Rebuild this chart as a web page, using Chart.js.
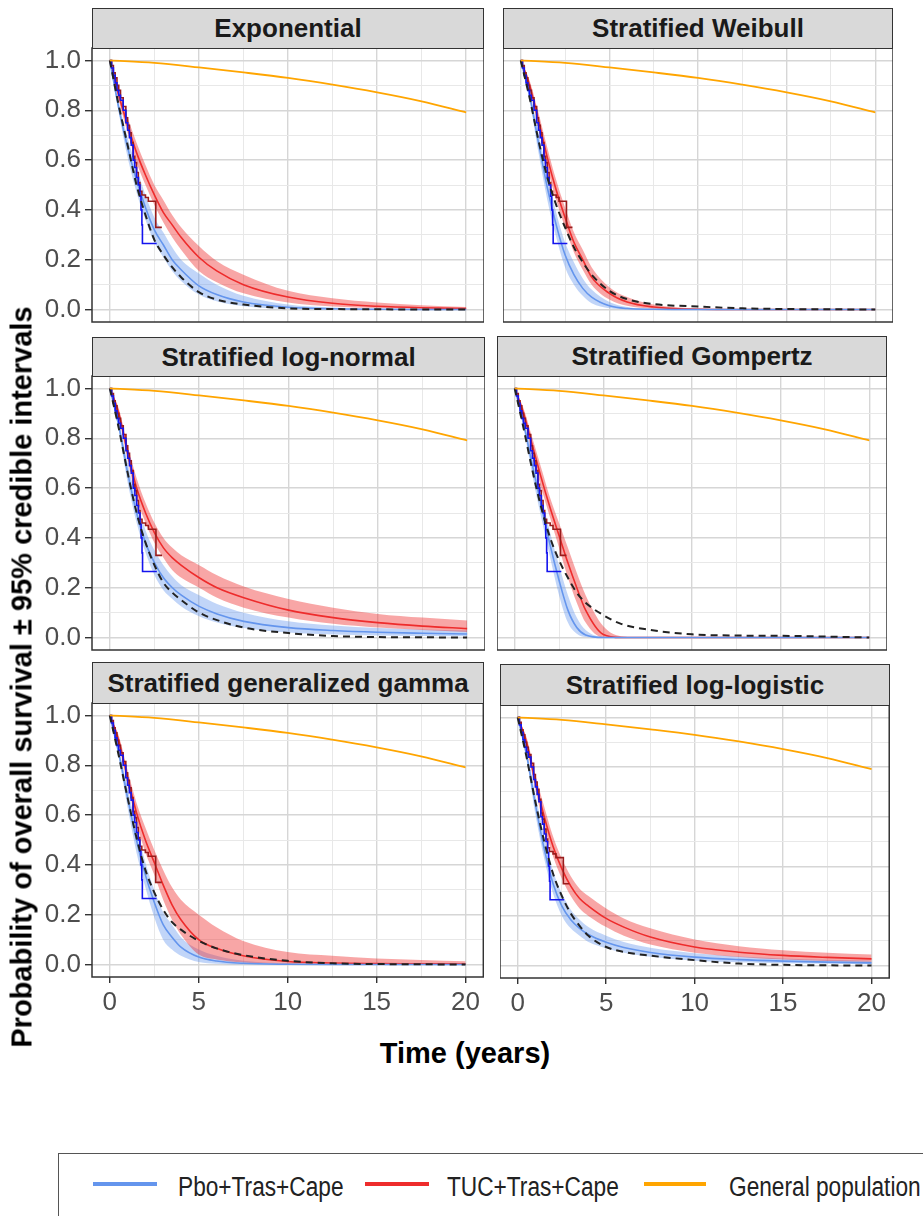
<!DOCTYPE html>
<html>
<head>
<meta charset="utf-8">
<script src="https://cdn.jsdelivr.net/npm/chart.js@4.4.1/dist/chart.umd.min.js"></script>
<style>
  body { margin: 0; background: #fff; width: 923px; height: 1216px; overflow: hidden; position: relative; font-family: 'Liberation Sans', Arial, sans-serif; }
  canvas { position: absolute; }
  .strip { position: absolute; box-sizing: border-box; background: #D9D9D9; border: 1.5px solid #333; font-weight: bold; font-size: 26px; color: #1a1a1a; display: flex; align-items: center; justify-content: center; white-space: nowrap; }
  .ytitle { position: absolute; left: 22px; top: 677px; transform: translate(-50%, -50%) rotate(-90deg); font-weight: bold; font-size: 29px; white-space: nowrap; color: #000; }
  .xtitle { position: absolute; left: 465px; top: 1053px; transform: translate(-50%, -50%); font-weight: bold; font-size: 29px; white-space: nowrap; color: #000; }
  .legend { position: absolute; left: 58px; top: 1153px; width: 900px; height: 100px; border: 1.5px solid #555; box-sizing: border-box; }
  .lkey { position: absolute; height: 4px; top: 1182px; }
  .ltxt { position: absolute; top: 1187px; font-size: 27px; color: #222; white-space: nowrap; transform-origin: left center; transform: translateY(-50%) scaleX(0.84); }
</style>
</head>
<body>
<script>
// time grid (years) used by the fitted curves
const T = [0, 0.5, 1, 1.5, 2, 2.5, 3, 3.5, 4, 5, 6, 7.5, 10, 12.5, 15, 17.5, 20];

// general population
const genT = [0, 2.5, 5, 7.5, 10, 12.5, 15, 17.5, 20];
const genPop = [1, 0.99, 0.972, 0.952, 0.93, 0.903, 0.872, 0.836, 0.792];

// Kaplan-Meier (observed)
const kmPboT = [0, 0.1, 0.2, 0.3, 0.4, 0.5, 0.6, 0.75, 0.9, 1.0, 1.1, 1.2, 1.31, 1.4, 1.5, 1.6, 1.69, 1.75, 1.8, 1.83, 2.63];
const kmPbo = [1, 0.97, 0.94, 0.91, 0.88, 0.86, 0.84, 0.8, 0.75, 0.72, 0.69, 0.66, 0.6, 0.57, 0.53, 0.5, 0.455, 0.4, 0.34, 0.265, 0.265];
const kmTucT = [0, 0.1, 0.2, 0.3, 0.4, 0.5, 0.6, 0.75, 0.9, 1.0, 1.1, 1.2, 1.31, 1.4, 1.5, 1.6, 1.69, 1.8, 2.0, 2.16, 2.58, 2.92];
const kmTuc = [1, 0.98, 0.95, 0.93, 0.9, 0.88, 0.85, 0.815, 0.77, 0.74, 0.71, 0.67, 0.615, 0.59, 0.55, 0.51, 0.475, 0.46, 0.45, 0.435, 0.33, 0.33];

// Exponential
const expRed = [1, 0.86, 0.74, 0.63, 0.54, 0.46, 0.39, 0.34, 0.29, 0.21, 0.155, 0.10, 0.05, 0.025, 0.013, 0.007, 0.004];
const expRedLo = [1, 0.84, 0.71, 0.59, 0.5, 0.42, 0.35, 0.29, 0.24, 0.155, 0.11, 0.065, 0.028, 0.012, 0.006, 0.003, 0.001];
const expRedHi = [1, 0.88, 0.77, 0.67, 0.58, 0.5, 0.44, 0.38, 0.33, 0.255, 0.195, 0.14, 0.075, 0.045, 0.028, 0.017, 0.01];
const expBlue = [1, 0.81, 0.65, 0.52, 0.41, 0.32, 0.26, 0.2, 0.16, 0.095, 0.06, 0.03, 0.009, 0.003, 0.001, 0, 0];
const expBlueLo = [1, 0.79, 0.61, 0.47, 0.36, 0.27, 0.21, 0.155, 0.115, 0.06, 0.033, 0.013, 0.003, 0.001, 0, 0, 0];
const expBlueHi = [1, 0.83, 0.69, 0.57, 0.46, 0.37, 0.31, 0.25, 0.2, 0.145, 0.1, 0.055, 0.02, 0.008, 0.003, 0.001, 0];
const expDash = [1, 0.82, 0.66, 0.5, 0.38, 0.28, 0.22, 0.17, 0.13, 0.07, 0.04, 0.02, 0.005, 0.002, 0.001, 0, 0];

// Stratified Weibull
const weiRed = [1, 0.9, 0.76, 0.61, 0.48, 0.37, 0.27, 0.2, 0.13, 0.065, 0.03, 0.01, 0.001, 0, 0, 0, 0];
const weiRedLo = [1, 0.88, 0.73, 0.57, 0.44, 0.33, 0.23, 0.16, 0.1, 0.04, 0.015, 0.003, 0, 0, 0, 0, 0];
const weiRedHi = [1, 0.92, 0.79, 0.65, 0.52, 0.41, 0.31, 0.24, 0.17, 0.09, 0.05, 0.02, 0.004, 0.001, 0, 0, 0];
const weiBlue = [1, 0.86, 0.67, 0.49, 0.34, 0.22, 0.14, 0.085, 0.05, 0.015, 0.004, 0.001, 0, 0, 0, 0, 0];
const weiBlueLo = [1, 0.84, 0.63, 0.44, 0.29, 0.17, 0.1, 0.055, 0.025, 0.005, 0.001, 0, 0, 0, 0, 0, 0];
const weiBlueHi = [1, 0.88, 0.71, 0.54, 0.39, 0.27, 0.19, 0.125, 0.08, 0.03, 0.01, 0.002, 0, 0, 0, 0, 0];
const weiDash = [1, 0.85, 0.68, 0.53, 0.42, 0.33, 0.25, 0.19, 0.14, 0.075, 0.042, 0.022, 0.012, 0.005, 0.002, 0.001, 0];

// Stratified log-normal
const lnRed = [1, 0.9, 0.74, 0.6, 0.5, 0.42, 0.36, 0.32, 0.29, 0.24, 0.2, 0.16, 0.11, 0.08, 0.06, 0.046, 0.036];
const lnRedLo = [1, 0.88, 0.71, 0.56, 0.46, 0.38, 0.32, 0.27, 0.24, 0.2, 0.16, 0.12, 0.08, 0.055, 0.04, 0.03, 0.022];
const lnRedHi = [1, 0.92, 0.77, 0.64, 0.54, 0.46, 0.4, 0.36, 0.33, 0.29, 0.25, 0.205, 0.155, 0.12, 0.095, 0.08, 0.068];
const lnBlue = [1, 0.85, 0.66, 0.5, 0.38, 0.3, 0.24, 0.2, 0.17, 0.125, 0.095, 0.065, 0.04, 0.028, 0.021, 0.017, 0.014];
const lnBlueLo = [1, 0.83, 0.62, 0.46, 0.34, 0.25, 0.19, 0.155, 0.125, 0.085, 0.06, 0.038, 0.02, 0.012, 0.008, 0.006, 0.005];
const lnBlueHi = [1, 0.87, 0.7, 0.55, 0.43, 0.35, 0.29, 0.245, 0.21, 0.17, 0.135, 0.1, 0.065, 0.048, 0.038, 0.032, 0.028];
const lnDash = [1, 0.84, 0.66, 0.5, 0.38, 0.29, 0.22, 0.18, 0.15, 0.1, 0.07, 0.04, 0.018, 0.006, 0.002, 0.001, 0];

// Stratified Gompertz
const gomRed = [1, 0.9, 0.77, 0.64, 0.52, 0.41, 0.3, 0.2, 0.11, 0.012, 0, 0, 0, 0, 0, 0, 0];
const gomRedLo = [1, 0.88, 0.74, 0.6, 0.48, 0.36, 0.24, 0.14, 0.06, 0, 0, 0, 0, 0, 0, 0, 0];
const gomRedHi = [1, 0.92, 0.8, 0.68, 0.56, 0.46, 0.36, 0.26, 0.17, 0.045, 0.005, 0, 0, 0, 0, 0, 0];
const gomBlue = [1, 0.86, 0.69, 0.53, 0.37, 0.23, 0.11, 0.04, 0.01, 0, 0, 0, 0, 0, 0, 0, 0];
const gomBlueLo = [1, 0.84, 0.65, 0.48, 0.32, 0.17, 0.06, 0.015, 0.002, 0, 0, 0, 0, 0, 0, 0, 0];
const gomBlueHi = [1, 0.88, 0.73, 0.57, 0.42, 0.29, 0.17, 0.08, 0.03, 0.002, 0, 0, 0, 0, 0, 0, 0];
const gomDash = [1, 0.84, 0.67, 0.52, 0.4, 0.31, 0.24, 0.18, 0.14, 0.09, 0.055, 0.032, 0.013, 0.008, 0.007, 0.004, 0];

// Stratified generalized gamma
const ggRed = [1, 0.9, 0.75, 0.61, 0.5, 0.41, 0.32, 0.24, 0.18, 0.1, 0.065, 0.035, 0.012, 0.006, 0.004, 0.003, 0.002];
const ggRedLo = [1, 0.88, 0.72, 0.57, 0.45, 0.36, 0.26, 0.18, 0.12, 0.04, 0.02, 0.008, 0.002, 0.001, 0, 0, 0];
const ggRedHi = [1, 0.92, 0.78, 0.65, 0.55, 0.46, 0.38, 0.31, 0.26, 0.2, 0.15, 0.095, 0.05, 0.035, 0.024, 0.018, 0.013];
const ggBlue = [1, 0.85, 0.67, 0.5, 0.36, 0.25, 0.16, 0.11, 0.07, 0.03, 0.014, 0.005, 0.001, 0, 0, 0, 0];
const ggBlueLo = [1, 0.83, 0.63, 0.45, 0.31, 0.19, 0.1, 0.06, 0.035, 0.01, 0.003, 0, 0, 0, 0, 0, 0];
const ggBlueHi = [1, 0.87, 0.71, 0.55, 0.41, 0.3, 0.21, 0.16, 0.11, 0.06, 0.035, 0.015, 0.004, 0.001, 0, 0, 0];
const ggDash = [1, 0.84, 0.67, 0.51, 0.38, 0.29, 0.22, 0.17, 0.14, 0.095, 0.065, 0.038, 0.015, 0.005, 0.002, 0.001, 0];

// Stratified log-logistic
const llRed = [1, 0.9, 0.74, 0.6, 0.48, 0.39, 0.32, 0.27, 0.24, 0.19, 0.155, 0.115, 0.075, 0.054, 0.041, 0.033, 0.027];
const llRedLo = [1, 0.88, 0.71, 0.56, 0.44, 0.35, 0.28, 0.23, 0.2, 0.155, 0.12, 0.085, 0.052, 0.035, 0.025, 0.019, 0.015];
const llRedHi = [1, 0.92, 0.77, 0.64, 0.52, 0.43, 0.36, 0.31, 0.28, 0.23, 0.19, 0.15, 0.105, 0.078, 0.062, 0.052, 0.045];
const llBlue = [1, 0.85, 0.65, 0.47, 0.33, 0.24, 0.185, 0.15, 0.125, 0.094, 0.073, 0.053, 0.034, 0.024, 0.018, 0.014, 0.011];
const llBlueLo = [1, 0.83, 0.61, 0.43, 0.29, 0.2, 0.15, 0.12, 0.095, 0.07, 0.052, 0.036, 0.02, 0.013, 0.009, 0.007, 0.005];
const llBlueHi = [1, 0.87, 0.69, 0.52, 0.38, 0.29, 0.225, 0.185, 0.155, 0.12, 0.095, 0.072, 0.05, 0.037, 0.029, 0.024, 0.02];
const llDash = [1, 0.84, 0.66, 0.5, 0.37, 0.28, 0.21, 0.16, 0.12, 0.075, 0.055, 0.04, 0.022, 0.008, 0.003, 0.001, 0];

// ticks
const xMajor = [0, 5, 10, 15, 20];
const xGrid = [0, 2.5, 5, 7.5, 10, 12.5, 15, 17.5, 20];
const yMajor = [0, 0.2, 0.4, 0.6, 0.8, 1.0];
const yGrid = [0, 0.1, 0.2, 0.3, 0.4, 0.5, 0.6, 0.7, 0.8, 0.9, 1.0];

const panels = [
  { title: 'Exponential', red: expRed, redLo: expRedLo, redHi: expRedHi, blue: expBlue, blueLo: expBlueLo, blueHi: expBlueHi, dash: expDash },
  { title: 'Stratified Weibull', red: weiRed, redLo: weiRedLo, redHi: weiRedHi, blue: weiBlue, blueLo: weiBlueLo, blueHi: weiBlueHi, dash: weiDash },
  { title: 'Stratified log-normal', red: lnRed, redLo: lnRedLo, redHi: lnRedHi, blue: lnBlue, blueLo: lnBlueLo, blueHi: lnBlueHi, dash: lnDash },
  { title: 'Stratified Gompertz', red: gomRed, redLo: gomRedLo, redHi: gomRedHi, blue: gomBlue, blueLo: gomBlueLo, blueHi: gomBlueHi, dash: gomDash },
  { title: 'Stratified generalized gamma', red: ggRed, redLo: ggRedLo, redHi: ggRedHi, blue: ggBlue, blueLo: ggBlueLo, blueHi: ggBlueHi, dash: ggDash },
  { title: 'Stratified log-logistic', red: llRed, redLo: llRedLo, redHi: llRedHi, blue: llBlue, blueLo: llBlueLo, blueHi: llBlueHi, dash: llDash }
];

// panel boxes: x, strip top, width, strip height, plot height
const boxes = [
  { x: 92, y: 8, w: 392, sh: 40, h: 274, col: 0, row: 0 },
  { x: 503, y: 8, w: 390, sh: 40, h: 274, col: 1, row: 0 },
  { x: 92, y: 337, w: 393, sh: 39, h: 274, col: 0, row: 1 },
  { x: 497, y: 336, w: 390, sh: 40, h: 274, col: 1, row: 1 },
  { x: 92, y: 662, w: 392, sh: 41, h: 274, col: 0, row: 2 },
  { x: 500, y: 664, w: 390, sh: 41, h: 273, col: 1, row: 2 }
];

const pts = (xs, ys) => xs.map((x, i) => ({ x: x, y: ys[i] }));
const isMajorY = v => yMajor.some(m => Math.abs(m - v) < 1e-6);

const borderPlugin = {
  id: 'panelBorder',
  afterDraw(chart) {
    const a = chart.chartArea, c = chart.ctx;
    c.save();
    c.strokeStyle = '#333';
    c.lineWidth = 1.5;
    c.strokeRect(a.left, a.top, a.right - a.left, a.bottom - a.top);
    c.restore();
  }
};

function buildPanel(p, g) {
  const left = g.col === 0, bottom = g.row === 2;
  const padTop = 20;
  const axisW = left ? g.x : 0;
  const axisH = bottom ? 50 : 20;

  const strip = document.createElement('div');
  strip.className = 'strip';
  strip.style.left = g.x + 'px';
  strip.style.top = g.y + 'px';
  strip.style.width = g.w + 'px';
  strip.style.height = (g.sh + 1) + 'px';
  strip.textContent = p.title;

  const cv = document.createElement('canvas');
  const cw = g.w + axisW, ch = g.h + padTop + axisH;
  cv.width = cw; cv.height = ch;
  cv.style.left = (g.x - axisW) + 'px';
  cv.style.top = (g.y + g.sh - padTop) + 'px';
  cv.style.width = cw + 'px';
  cv.style.height = ch + 'px';
  document.body.appendChild(cv);
  document.body.appendChild(strip);

  const smooth = { pointRadius: 0, cubicInterpolationMode: 'monotone' };
  const datasets = [
    Object.assign({ data: pts(T, p.blueLo), borderWidth: 0, borderColor: 'transparent', fill: false, order: 6 }, smooth),
    Object.assign({ data: pts(T, p.blueHi), borderWidth: 0, borderColor: 'transparent', fill: '-1', backgroundColor: 'rgba(100,149,237,0.4)', order: 6 }, smooth),
    Object.assign({ data: pts(T, p.redLo), borderWidth: 0, borderColor: 'transparent', fill: false, order: 5 }, smooth),
    Object.assign({ data: pts(T, p.redHi), borderWidth: 0, borderColor: 'transparent', fill: '-1', backgroundColor: 'rgba(238,44,44,0.42)', order: 5 }, smooth),
    Object.assign({ data: pts(T, p.blue), borderWidth: 1.6, borderColor: '#6495ED', fill: false, order: 4 }, smooth),
    Object.assign({ data: pts(T, p.red), borderWidth: 1.6, borderColor: '#EE2C2C', fill: false, order: 4 }, smooth),
    { data: pts(kmPboT, kmPbo), stepped: 'before', borderWidth: 1.6, borderColor: '#1414EE', pointRadius: 0, fill: false, order: 3 },
    { data: pts(kmTucT, kmTuc), stepped: 'before', borderWidth: 1.6, borderColor: '#9A1C1C', pointRadius: 0, fill: false, order: 3 },
    Object.assign({ data: pts(T, p.dash), borderWidth: 2, borderColor: '#222', borderDash: [7, 5], fill: false, order: 2 }, smooth),
    Object.assign({ data: pts(genT, genPop), borderWidth: 1.8, borderColor: '#FFA500', fill: false, order: 1 }, smooth)
  ];

  const gridColor = major => major ? '#D6D6D6' : '#E8E8E8';

  new Chart(cv.getContext('2d'), {
    type: 'line',
    data: { datasets: datasets },
    options: {
      responsive: false,
      animation: false,
      events: [],
      layout: { padding: { top: padTop, bottom: bottom ? 0 : 20, left: 0, right: 0 } },
      plugins: { legend: { display: false }, tooltip: { enabled: false } },
      scales: {
        x: {
          type: 'linear', min: -1, max: 21,
          afterBuildTicks: s => { s.ticks = xGrid.map(v => ({ value: v })); },
          afterFit: s => { s.height = bottom ? axisH : 0; },
          border: { display: false },
          grid: {
            drawTicks: bottom, tickLength: 6,
            color: c => gridColor(xMajor.includes(c.tick.value)),
            lineWidth: c => xMajor.includes(c.tick.value) ? 1.4 : 1,
            tickColor: c => xMajor.includes(c.tick.value) ? '#333' : 'rgba(0,0,0,0)'
          },
          ticks: {
            display: bottom, autoSkip: false, maxRotation: 0, padding: 4,
            color: '#4D4D4D', font: { family: "'Liberation Sans', Arial, sans-serif", size: 26 },
            callback: v => xMajor.includes(v) ? String(v) : ''
          }
        },
        y: {
          type: 'linear', min: -0.05, max: 1.05,
          afterBuildTicks: s => { s.ticks = yGrid.map(v => ({ value: v })); },
          afterFit: s => { s.width = axisW; },
          border: { display: false },
          grid: {
            drawTicks: left, tickLength: 7,
            color: c => gridColor(isMajorY(c.tick.value)),
            lineWidth: c => isMajorY(c.tick.value) ? 1.4 : 1,
            tickColor: c => isMajorY(c.tick.value) ? '#333' : 'rgba(0,0,0,0)'
          },
          ticks: {
            display: left, autoSkip: false, padding: 4,
            color: '#4D4D4D', font: { family: "'Liberation Sans', Arial, sans-serif", size: 26 },
            callback: v => isMajorY(v) ? v.toFixed(1) : ''
          }
        }
      }
    },
    plugins: [borderPlugin]
  });
}

panels.forEach((p, i) => buildPanel(p, boxes[i]));

// axis titles and legend as page text
const yt = document.createElement('div');
yt.className = 'ytitle';
yt.textContent = 'Probability of overall survival \u00b1 95% credible intervals';
document.body.appendChild(yt);
const xt = document.createElement('div');
xt.className = 'xtitle';
xt.textContent = 'Time (years)';
document.body.appendChild(xt);

const legendItems = [
  { label: 'Pbo+Tras+Cape', color: '#6495ED', key: [93, 157], text: 178 },
  { label: 'TUC+Tras+Cape', color: '#EE2C2C', key: [365, 429], text: 447 },
  { label: 'General population', color: '#FFA500', key: [644, 706], text: 729 }
];
const lg = document.createElement('div');
lg.className = 'legend';
document.body.appendChild(lg);
legendItems.forEach(it => {
  const k = document.createElement('div');
  k.className = 'lkey';
  k.style.left = it.key[0] + 'px';
  k.style.width = (it.key[1] - it.key[0]) + 'px';
  k.style.background = it.color;
  document.body.appendChild(k);
  const t = document.createElement('div');
  t.className = 'ltxt';
  t.style.left = it.text + 'px';
  t.textContent = it.label;
  document.body.appendChild(t);
});
</script>
</body>
</html>
